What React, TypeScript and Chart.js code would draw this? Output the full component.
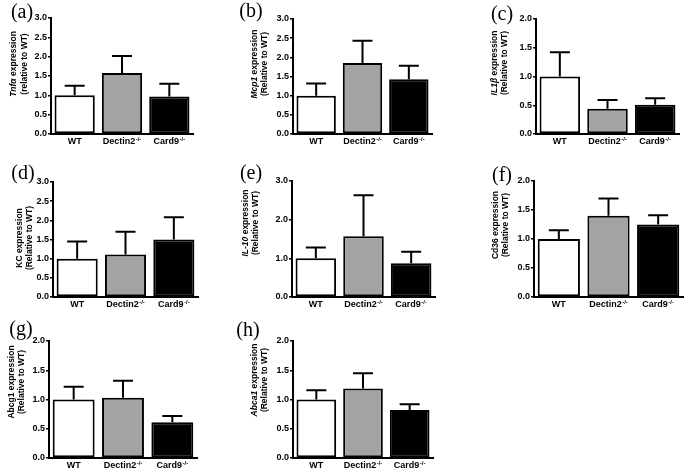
import React, { useEffect, useRef } from "react";
import { Chart, registerables } from "chart.js";

Chart.register(...registerables);

// ---------- data ----------
const categories = ["WT", "Dectin2", "Card9"];
const categorySup = ["", "-/-", "-/-"];
const barColors = ["#ffffff", "#a3a3a3", "#000000"];

const panelLetters = ["(a)", "(b)", "(c)", "(d)", "(e)", "(f)", "(g)", "(h)"];
const geneNames = ["Tnfα", "Mcp1", "IL1β", "KC", "IL-10", "Cd36", "Abcg1", "Abca1"];
const geneItalic = [true, true, true, false, true, false, false, true];
const subtitles = [
  "(relative to WT)",
  "(Relative to WT)",
  "(Relative to WT)",
  "(Relative to WT)",
  "(Relative to WT)",
  "(Relative to WT)",
  "(Relative to WT)",
  "(Relative to WT)",
];
const yMaxes = [3, 3, 2, 3, 3, 2, 2, 2];
const yStepSizes = [0.5, 0.5, 0.5, 0.5, 1, 0.5, 0.5, 0.5];

const tnfaMean = [1.0, 1.58, 0.97];
const tnfaErr = [0.25, 0.44, 0.33];
const mcp1Mean = [1.0, 1.85, 1.43];
const mcp1Err = [0.32, 0.58, 0.35];
const il1bMean = [1.0, 0.44, 0.51];
const il1bErr = [0.42, 0.15, 0.11];
const kcMean = [1.0, 1.11, 1.5];
const kcErr = [0.45, 0.59, 0.58];
const il10Mean = [1.0, 1.57, 0.87];
const il10Err = [0.28, 1.06, 0.3];
const cd36Mean = [1.0, 1.4, 1.25];
const cd36Err = [0.15, 0.3, 0.16];
const abcg1Mean = [1.0, 1.03, 0.61];
const abcg1Err = [0.22, 0.29, 0.11];
const abca1Mean = [1.0, 1.19, 0.82];
const abca1Err = [0.16, 0.26, 0.1];

const means = [tnfaMean, mcp1Mean, il1bMean, kcMean, il10Mean, cd36Mean, abcg1Mean, abca1Mean];
const errs = [tnfaErr, mcp1Err, il1bErr, kcErr, il10Err, cd36Err, abcg1Err, abca1Err];

// ---------- layout (page pixels) ----------
type Box = { left: number; top: number; width: number; height: number };
const colLefts = [0, 230, 460];
const colWidths = [230, 230, 228];
const rowTops = [0, 160, 318];
const rowHeights = [160, 158, 154];

const areas = [
  { l: 51, t: 18, r: 193, b: 134 },
  { l: 293, t: 19, r: 432, b: 134 },
  { l: 536, t: 19, r: 679, b: 134 },
  { l: 53, t: 182, r: 198, b: 297 },
  { l: 292, t: 181, r: 435, b: 297 },
  { l: 534, t: 181, r: 683, b: 297 },
  { l: 49, t: 341, r: 197, b: 458 },
  { l: 293, t: 341, r: 433, b: 458 },
];
const titlePos = [
  { x1: 14, x2: 25, cy: 64 },
  { x1: 255, x2: 265, cy: 64 },
  { x1: 495, x2: 505, cy: 63 },
  { x1: 20, x2: 30, cy: 238 },
  { x1: 246, x2: 256, cy: 223 },
  { x1: 496, x2: 506, cy: 225 },
  { x1: 12, x2: 22, cy: 382 },
  { x1: 255, x2: 265, cy: 380 },
];
const letterPos = [
  { x: 22, y: 13 },
  { x: 251, y: 12 },
  { x: 502, y: 15 },
  { x: 23, y: 174 },
  { x: 251, y: 174 },
  { x: 502, y: 176 },
  { x: 21, y: 330 },
  { x: 248, y: 331 },
];

const SANS = '"Liberation Sans", Arial, sans-serif';
const SERIF = '"Liberation Serif", "Times New Roman", serif';
const Y_AXIS_W = 20;
const X_AXIS_H = 10;

function Panel({ idx }: { idx: number }) {
  const ref = useRef<HTMLCanvasElement | null>(null);
  const col = idx % 3;
  const row = Math.floor(idx / 3);
  const box: Box = {
    left: colLefts[col],
    top: rowTops[row],
    width: colWidths[col],
    height: rowHeights[row],
  };

  useEffect(() => {
    const canvas = ref.current;
    if (!canvas) return;
    const area = areas[idx];
    const m = means[idx];
    const e = errs[idx];

    const overlay = {
      id: "overlay",
      afterDatasetsDraw(chart: any) {
        const ctx = chart.ctx as CanvasRenderingContext2D;
        const ys = chart.scales.y;
        const xs = chart.scales.x;
        const meta = chart.getDatasetMeta(0);
        ctx.save();
        // error bars (upper only)
        ctx.strokeStyle = "#000";
        ctx.lineWidth = 2;
        meta.data.forEach((bar: any, i: number) => {
          const top = ys.getPixelForValue(m[i] + e[i]);
          ctx.beginPath();
          ctx.moveTo(bar.x, bar.y);
          ctx.lineTo(bar.x, top);
          ctx.moveTo(bar.x - 10, top);
          ctx.lineTo(bar.x + 10, top);
          ctx.stroke();
        });
        // category labels with superscripts
        const labelY = xs.top + 8;
        ctx.fillStyle = "#000";
        ctx.textBaseline = "middle";
        ctx.textAlign = "left";
        categories.forEach((c, i) => {
          const cx = xs.getPixelForValue(i);
          ctx.font = `bold 9px ${SANS}`;
          const w1 = ctx.measureText(c).width;
          ctx.font = `bold 6px ${SANS}`;
          const w2 = categorySup[i] ? ctx.measureText(categorySup[i]).width + 0.5 : 0;
          const x0 = cx - (w1 + w2) / 2;
          ctx.font = `bold 9px ${SANS}`;
          ctx.fillText(c, x0, labelY);
          if (categorySup[i]) {
            ctx.font = `bold 6px ${SANS}`;
            ctx.fillText(categorySup[i], x0 + w1 + 0.5, labelY - 3);
          }
        });
        // y-axis title (two rotated lines)
        const tp = titlePos[idx];
        const gene = geneNames[idx];
        const rest = " expression";
        const fGene = `${geneItalic[idx] ? "italic " : ""}bold 8.5px ${SANS}`;
        const fNorm = `bold 8.5px ${SANS}`;
        ctx.save();
        ctx.translate(tp.x1 - box.left, tp.cy - box.top);
        ctx.rotate(-Math.PI / 2);
        ctx.font = fGene;
        const gw = ctx.measureText(gene).width;
        ctx.font = fNorm;
        const rw = ctx.measureText(rest).width;
        const sx = -(gw + rw) / 2;
        ctx.font = fGene;
        ctx.fillText(gene, sx, 0);
        ctx.font = fNorm;
        ctx.fillText(rest, sx + gw, 0);
        ctx.restore();
        ctx.save();
        ctx.translate(tp.x2 - box.left, tp.cy - box.top);
        ctx.rotate(-Math.PI / 2);
        ctx.font = fNorm;
        ctx.textAlign = "center";
        ctx.fillText(subtitles[idx], 0, 0);
        ctx.restore();
        // panel letter
        const lp = letterPos[idx];
        ctx.font = `20px ${SERIF}`;
        ctx.textAlign = "center";
        ctx.textBaseline = "middle";
        ctx.fillText(panelLetters[idx], lp.x - box.left, lp.y - box.top);
        ctx.restore();
      },
    };

    const chart = new Chart(canvas, {
      type: "bar",
      data: {
        labels: categories,
        datasets: [
          {
            data: m,
            backgroundColor: barColors,
            borderColor: "#000",
            borderWidth: 2,
            borderSkipped: false,
            barPercentage: 0.85,
            categoryPercentage: 1,
          },
        ],
      },
      options: {
        animation: false,
        responsive: false,
        devicePixelRatio: 1,
        layout: {
          padding: {
            left: area.l - box.left - Y_AXIS_W,
            top: area.t - box.top,
            right: box.left + box.width - area.r,
            bottom: box.top + box.height - area.b - X_AXIS_H,
          },
        },
        plugins: {
          legend: { display: false },
          tooltip: { enabled: false },
          title: { display: false },
        },
        scales: {
          x: {
            type: "category",
            grid: { display: false },
            border: { display: true, color: "#000", width: 2 },
            ticks: { display: false },
            afterFit: (s: any) => {
              s.height = X_AXIS_H;
            },
          },
          y: {
            min: 0,
            max: yMaxes[idx],
            ticks: {
              stepSize: yStepSizes[idx],
              color: "#000",
              padding: 1,
              font: { family: SANS, size: 9, weight: "bold" },
              callback: (v: any) => Number(v).toFixed(1),
            },
            grid: {
              display: true,
              drawOnChartArea: false,
              drawTicks: true,
              tickLength: 3,
              color: "#000",
              lineWidth: 1.5,
            },
            border: { display: true, color: "#000", width: 2 },
            afterFit: (s: any) => {
              s.width = Y_AXIS_W;
            },
          },
        },
      } as any,
      plugins: [overlay],
    });
    return () => chart.destroy();
  }, [idx]);

  return (
    <canvas
      ref={ref}
      width={box.width}
      height={box.height}
      style={{
        position: "absolute",
        left: box.left,
        top: box.top,
        width: box.width,
        height: box.height,
        display: "block",
      }}
    />
  );
}

export default function App() {
  return (
    <div
      style={{
        position: "fixed",
        left: 0,
        top: 0,
        width: 688,
        height: 472,
        background: "#fff",
        overflow: "hidden",
      }}
    >
      {panelLetters.map((_, i) => (
        <Panel key={i} idx={i} />
      ))}
    </div>
  );
}
